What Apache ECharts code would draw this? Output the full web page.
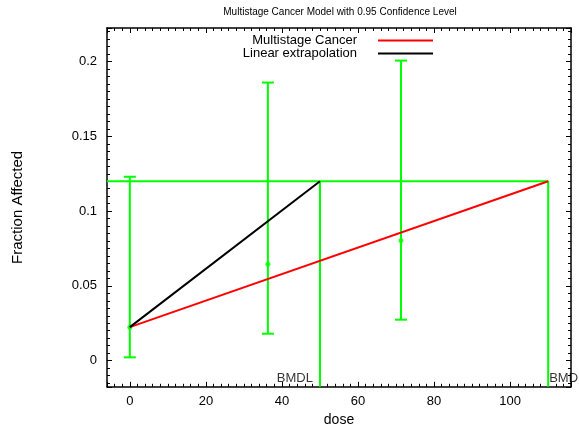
<!DOCTYPE html>
<html>
<head>
<meta charset="utf-8">
<script src="https://cdn.jsdelivr.net/npm/echarts@6/dist/echarts.min.js"></script>
<style>
html, body { margin: 0; padding: 0; background: #fff; }
#chart { width: 579px; height: 429px; }
</style>
</head>
<body>
<div id="chart"></div>
<script>
// observed doses and fraction affected, with the 0.95 confidence limits
var doses = [0, 36.3, 71.3];
var fractions = [0.0224, 0.0644, 0.0803];
var lowerLimits = [0.0022, 0.018, 0.0274];
var upperLimits = [0.123, 0.186, 0.2007];

// fitted model and linear extrapolation (dose, fraction)
var modelLine = [[0, 0.0224], [110, 0.12]];
var linearLine = [[0, 0.0224], [50, 0.12]];

var bmr = 0.12;
var bmd = 110;
var bmdl = 50;

var xRange = [-6, 116];
var yRange = [-0.0175, 0.2225];
var yMinorRange = [-0.015, 0.22];

var font = "'Liberation Sans', Arial, sans-serif";
var green = '#00ff00';

var myChart = echarts.init(document.getElementById('chart'));

// grid in pixels, helper grid 2 holds the minor y ticks
var gLeft = 107, gTop = 28, gWidth = 464, gHeight = 358.8;
var pxPerY = gHeight / (yRange[1] - yRange[0]);

function majorX(v) {
    return v % 20 === 0 ? String(v) : '';
}
function majorY(v) {
    var k = v / 0.05;
    return Math.abs(k - Math.round(k)) < 1e-6 ? String(+v.toFixed(3)) : '';
}

var errorData = doses.map(function (d, i) {
    return [d, lowerLimits[i], upperLimits[i]];
});
var pointData = doses.map(function (d, i) {
    return [d, fractions[i]];
});

function renderErrorBar(params, api) {
    var x = api.value(0);
    var lo = api.coord([x, api.value(1)]);
    var hi = api.coord([x, api.value(2)]);
    var w = 6;
    var st = { stroke: green, lineWidth: 2 };
    return {
        type: 'group',
        children: [
            { type: 'line', shape: { x1: lo[0], y1: lo[1], x2: hi[0], y2: hi[1] }, style: st },
            { type: 'line', shape: { x1: lo[0] - w, y1: lo[1], x2: lo[0] + w, y2: lo[1] }, style: st },
            { type: 'line', shape: { x1: hi[0] - w, y1: hi[1], x2: hi[0] + w, y2: hi[1] }, style: st }
        ]
    };
}

var mainLine = { show: true, onZero: false, lineStyle: { color: '#000', width: 1.5 } };
var noLine = { show: false, onZero: false };
var majorTick = { show: true, inside: true, length: 5, lineStyle: { color: '#000', width: 1 } };
var minorTick = { show: true, inside: true, length: 3, lineStyle: { color: '#000', width: 1 } };

var option = {
    animation: false,
    textStyle: { fontFamily: font },
    graphic: [{
        type: 'text',
        x: 340,
        y: 7,
        style: {
            text: 'Multistage Cancer Model with 0.95 Confidence Level',
            align: 'center',
            verticalAlign: 'top',
            fontSize: 10,
            fontFamily: font,
            fill: '#000'
        }
    }],
    legend: {
        data: [
            { name: 'Multistage Cancer', icon: 'rect' },
            { name: 'Linear extrapolation', icon: 'rect' }
        ],
        orient: 'vertical',
        right: 141,
        top: 29,
        align: 'right',
        itemWidth: 55,
        itemHeight: 2,
        itemGap: 0,
        textStyle: { fontSize: 13, lineHeight: 12, color: '#000', fontFamily: font, padding: [0, 16, 0, 0] }
    },
    grid: [
        { left: gLeft, top: gTop, width: gWidth, height: gHeight, outerBoundsMode: 'none' },
        { left: gLeft, top: gTop, width: gWidth, height: gHeight, outerBoundsMode: 'none' },
        {
            left: gLeft,
            top: gTop + (yRange[1] - yMinorRange[1]) * pxPerY,
            width: gWidth,
            height: (yMinorRange[1] - yMinorRange[0]) * pxPerY,
            outerBoundsMode: 'none'
        }
    ],
    xAxis: [
        {
            gridIndex: 0, type: 'value', position: 'bottom',
            min: xRange[0], max: xRange[1],
            name: 'dose', nameLocation: 'middle', nameGap: 25,
            nameTextStyle: { fontSize: 14, color: '#000', fontFamily: font },
            axisLine: mainLine, axisTick: majorTick, splitLine: { show: false },
            axisLabel: { fontSize: 13, color: '#000', margin: 8, formatter: majorX, fontFamily: font }
        },
        {
            gridIndex: 0, type: 'value', position: 'top',
            min: xRange[0], max: xRange[1],
            axisLine: mainLine, axisTick: majorTick, splitLine: { show: false },
            axisLabel: { show: false }
        },
        {
            gridIndex: 1, type: 'value', position: 'bottom',
            min: xRange[0], max: xRange[1], interval: 2,
            axisLine: noLine, axisTick: minorTick, splitLine: { show: false },
            axisLabel: { show: false }
        },
        {
            gridIndex: 1, type: 'value', position: 'top',
            min: xRange[0], max: xRange[1], interval: 2,
            axisLine: noLine, axisTick: minorTick, splitLine: { show: false },
            axisLabel: { show: false }
        },
        {
            gridIndex: 2, type: 'value', show: false,
            min: xRange[0], max: xRange[1]
        }
    ],
    yAxis: [
        {
            gridIndex: 0, type: 'value', position: 'left',
            min: yRange[0], max: yRange[1],
            name: 'Fraction Affected', nameLocation: 'middle', nameGap: 82,
            nameTextStyle: { fontSize: 15, color: '#000', fontFamily: font },
            axisLine: mainLine, axisTick: majorTick, splitLine: { show: false },
            axisLabel: { fontSize: 13, color: '#000', margin: 10, formatter: majorY, fontFamily: font }
        },
        {
            gridIndex: 0, type: 'value', position: 'right',
            min: yRange[0], max: yRange[1],
            axisLine: mainLine, axisTick: majorTick, splitLine: { show: false },
            axisLabel: { show: false }
        },
        {
            gridIndex: 1, type: 'value', show: false,
            min: yRange[0], max: yRange[1]
        },
        {
            gridIndex: 2, type: 'value', position: 'left',
            min: yMinorRange[0], max: yMinorRange[1], interval: 0.005,
            axisLine: noLine, axisTick: minorTick, splitLine: { show: false },
            axisLabel: { show: false }
        },
        {
            gridIndex: 2, type: 'value', position: 'right',
            min: yMinorRange[0], max: yMinorRange[1], interval: 0.005,
            axisLine: noLine, axisTick: minorTick, splitLine: { show: false },
            axisLabel: { show: false }
        }
    ],
    series: [
        {
            name: 'BMD',
            type: 'line',
            xAxisIndex: 0, yAxisIndex: 0,
            data: [[xRange[0], bmr], [bmd, bmr], [bmd, yRange[0]]],
            symbol: 'none',
            lineStyle: { color: green, width: 2 },
            silent: true
        },
        {
            name: 'BMDL',
            type: 'line',
            xAxisIndex: 0, yAxisIndex: 0,
            data: [[bmdl, bmr], [bmdl, yRange[0]]],
            symbol: 'none',
            lineStyle: { color: green, width: 2 },
            silent: true
        },
        {
            name: 'Data',
            type: 'custom',
            xAxisIndex: 0, yAxisIndex: 0,
            renderItem: renderErrorBar,
            encode: { x: 0, y: [1, 2] },
            data: errorData,
            z: 3
        },
        {
            name: 'Points',
            type: 'scatter',
            xAxisIndex: 0, yAxisIndex: 0,
            data: pointData,
            symbolSize: 5,
            itemStyle: { color: green },
            z: 4
        },
        {
            name: 'Multistage Cancer',
            type: 'line',
            xAxisIndex: 0, yAxisIndex: 0,
            data: modelLine,
            symbol: 'none',
            color: '#ff0000',
            lineStyle: { color: '#ff0000', width: 2 },
            z: 5
        },
        {
            name: 'Linear extrapolation',
            type: 'line',
            xAxisIndex: 0, yAxisIndex: 0,
            data: linearLine,
            symbol: 'none',
            color: '#000000',
            lineStyle: { color: '#000000', width: 2 },
            z: 5
        },
        {
            name: 'Limit labels',
            type: 'scatter',
            xAxisIndex: 0, yAxisIndex: 0,
            symbolSize: 0,
            silent: true,
            data: [
                { value: [bmdl, -0.012], label: { show: true, position: 'left', distance: 7, formatter: 'BMDL' } },
                { value: [bmd, -0.012], label: { show: true, position: 'right', distance: 1, formatter: 'BMD' } }
            ],
            label: { fontSize: 13, color: '#000', fontFamily: font },
            z: 6
        }
    ]
};

myChart.setOption(option);
</script>
</body>
</html>
